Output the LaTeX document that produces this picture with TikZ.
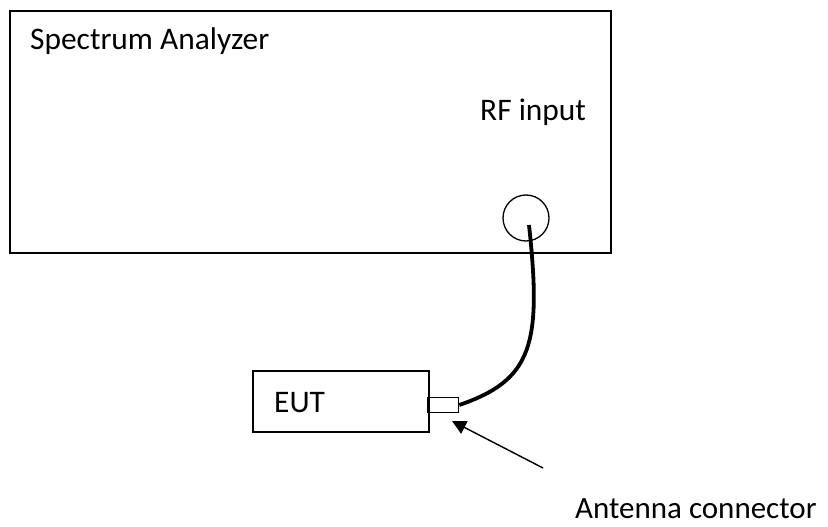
\documentclass[tikz,border=0pt]{standalone}
\usepackage{fontspec}
\setmainfont{Carlito}
\usetikzlibrary{arrows.meta}
\begin{document}
\begin{tikzpicture}[x=1pt,y=-1pt,
  box/.style={draw,line width=1.6pt,inner sep=0pt},
  lbl/.style={font=\fontsize{31.4}{36}\selectfont,inner sep=0pt,anchor=base west}]
\useasboundingbox (0,0) rectangle (828,527);
\node[box,minimum width=601pt,minimum height=242pt,anchor=north west] (sa) at (9,10) {};
\node[lbl] (satxt) at (30,50) {Spectrum Analyzer};
\node[lbl] (rftxt) at (480,121) {RF input};
\node[draw,line width=1.3pt,circle,minimum size=46pt,inner sep=0pt] (rf) at (526,218) {};
\node[box,minimum width=176pt,minimum height=61pt,anchor=north west] (eut) at (252,370) {};
\node[lbl] (euttxt) at (274,412) {EUT};
\node[box,line width=1.3pt,minimum width=31pt,minimum height=15pt,anchor=west] (conn) at (427,405) {};
\node[lbl,font=\fontsize{31}{36}\selectfont] (anttxt) at (575,518) {Antenna connector};
\coordinate (cs) at (529,225);
\coordinate (at) at (543,468);
\draw[line width=3.8pt] (cs) .. controls (542,345) and (532,380) .. (conn.east);
\draw[line width=1.4pt,-{Triangle[length=14pt,width=14pt]}] (at) -- (452,421);
\end{tikzpicture}
\end{document}
